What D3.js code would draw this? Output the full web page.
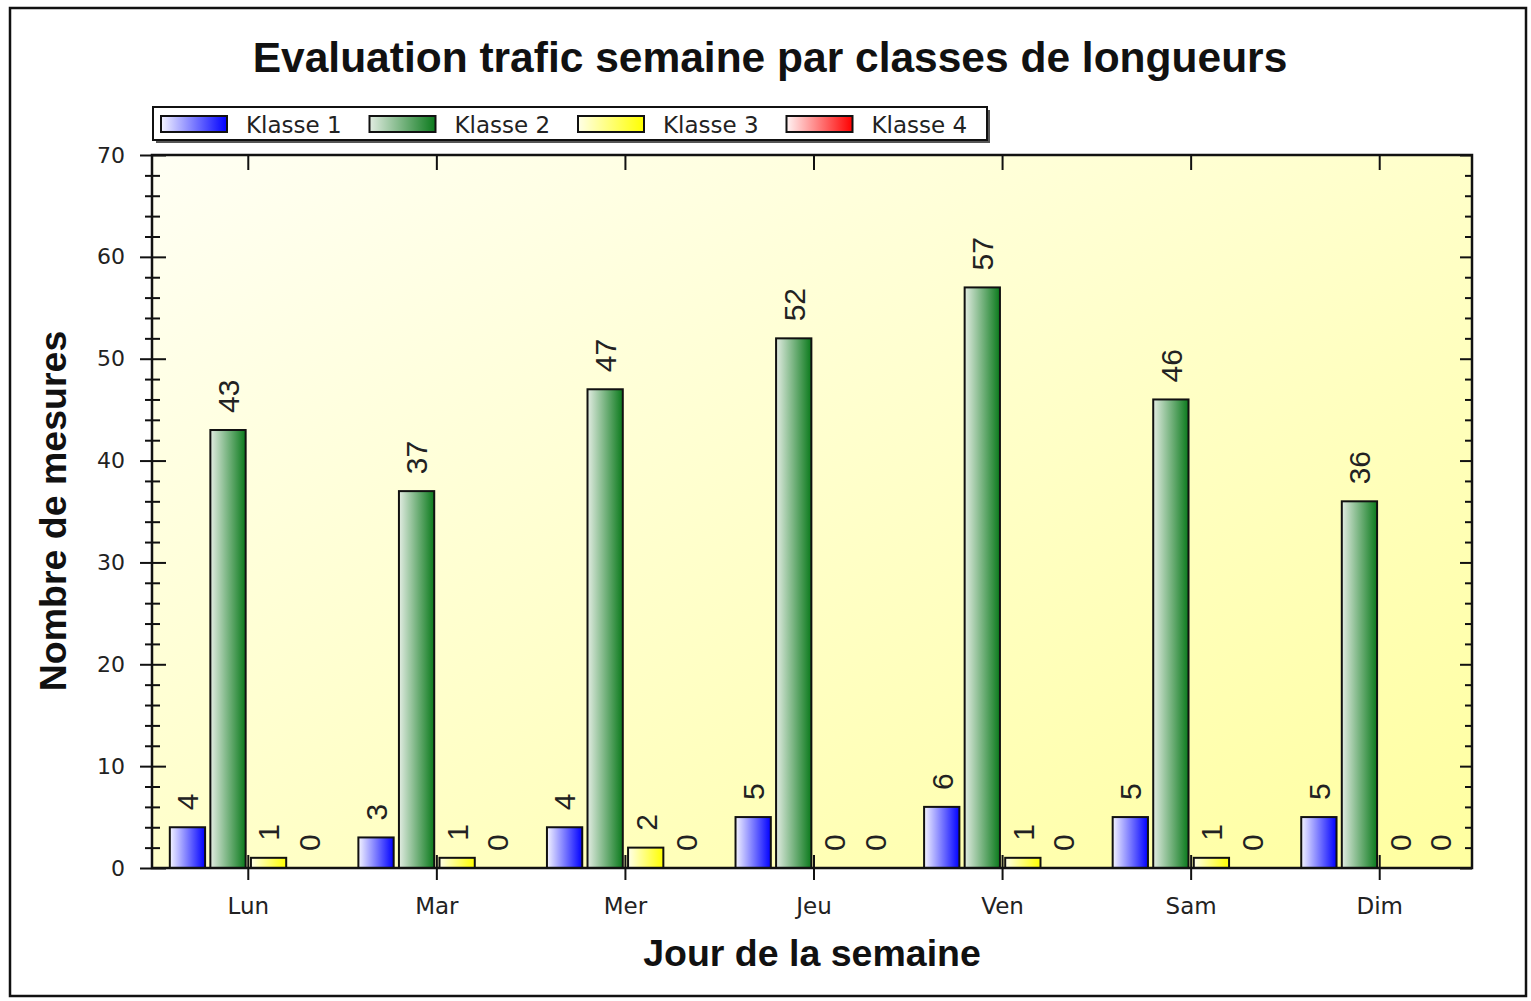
<!DOCTYPE html>
<html>
<head>
<meta charset="utf-8">
<script src="https://cdn.jsdelivr.net/npm/d3@7"></script>
<style>
    html, body { margin: 0; padding: 0; background: #fff; }
    svg { display: block; }
    .lbl { font-family: "DejaVu Sans", sans-serif; fill: #222; }
    .bold { font-family: "Liberation Sans", Arial, sans-serif; font-weight: bold; fill: #111; }
</style>
</head>
<body>
<svg id="chart" width="1531" height="1001"></svg>
<script>
'use strict';

var days = [ 'Lun', 'Mar', 'Mer', 'Jeu', 'Ven', 'Sam', 'Dim' ],
    seriesNames = [ 'Klasse 1', 'Klasse 2', 'Klasse 3', 'Klasse 4' ],
    klasse1 = [ 4, 3, 4, 5, 6, 5, 5 ],
    klasse2 = [ 43, 37, 47, 52, 57, 46, 36 ],
    klasse3 = [ 1, 1, 2, 0, 1, 1, 0 ],
    klasse4 = [ 0, 0, 0, 0, 0, 0, 0 ],
    majorTicks = [ 0, 10, 20, 30, 40, 50, 60, 70 ],
    minorTicks = d3.range( 0, 71, 2 ).filter(function( v ){ return v % 10 !== 0; });

var seriesValues = [ klasse1, klasse2, klasse3, klasse4 ],
    colors = [
        { light: '#f4f4ff', dark: '#0000ff' },
        { light: '#e2ece2', dark: '#0b7a1c' },
        { light: '#ffffe8', dark: '#ffff00' },
        { light: '#fff4f4', dark: '#ff0000' }
    ];

var svg = d3.select( '#chart' ),
    plot = { left: 152, top: 155, right: 1472, bottom: 868 },
    shift = 2,
    defs = svg.append( 'defs' );

// gradients
colors.forEach(function( c, i ){
    var g = defs.append( 'linearGradient' )
        .attr( 'id', 'bar' + i )
        .attr( 'x1', 0 ).attr( 'y1', 0 )
        .attr( 'x2', 1 ).attr( 'y2', 0 );
    g.append( 'stop' ).attr( 'offset', 0 ).attr( 'stop-color', c.light );
    g.append( 'stop' ).attr( 'offset', 1 ).attr( 'stop-color', c.dark );
});

var bg = defs.append( 'linearGradient' )
    .attr( 'id', 'plotBg' )
    .attr( 'x1', 0 ).attr( 'y1', 0 )
    .attr( 'x2', 1 ).attr( 'y2', 1 );
bg.append( 'stop' ).attr( 'offset', 0 ).attr( 'stop-color', '#fffff4' );
bg.append( 'stop' ).attr( 'offset', 1 ).attr( 'stop-color', '#ffffa0' );

// outer frame
svg.append( 'rect' )
    .attr( 'x', 10 ).attr( 'y', 8 )
    .attr( 'width', 1516 ).attr( 'height', 988 )
    .attr( 'fill', '#fff' )
    .attr( 'stroke', '#111' )
    .attr( 'stroke-width', 2.5 );

// title
svg.append( 'text' )
    .attr( 'class', 'bold' )
    .attr( 'x', 770 ).attr( 'y', 72 )
    .attr( 'text-anchor', 'middle' )
    .style( 'font-size', '42.5px' )
    .text( 'Evaluation trafic semaine par classes de longueurs' );

// scales
var x0 = d3.scaleBand()
        .domain( days )
        .range( [ plot.left + shift, plot.right + shift ] )
        .padding( 0 ),
    x1 = d3.scaleBand()
        .domain( seriesNames )
        .range( [ 0, x0.bandwidth() ] )
        .paddingInner( 0.13 )
        .paddingOuter( 0.39 ),
    y = d3.scaleLinear()
        .domain( [ 0, 70 ] )
        .range( [ plot.bottom, plot.top ] );

// plot background
svg.append( 'rect' )
    .attr( 'x', plot.left ).attr( 'y', plot.top )
    .attr( 'width', plot.right - plot.left )
    .attr( 'height', plot.bottom - plot.top )
    .attr( 'fill', 'url(#plotBg)' );

// bars
var groups = svg.append( 'g' ).selectAll( 'g' )
    .data( days )
    .enter().append( 'g' )
    .attr( 'transform', function( d ){ return 'translate(' + x0( d ) + ',0)'; } );

var cells = groups.selectAll( 'g' )
    .data(function( d, di ){
        return seriesNames.map(function( s, si ){
            return { series: s, idx: si, value: seriesValues[si][di] };
        });
    })
    .enter().append( 'g' );

cells.filter(function( d ){ return d.value > 0; })
    .append( 'rect' )
    .attr( 'x', function( d ){ return x1( d.series ); } )
    .attr( 'y', function( d ){ return y( d.value ); } )
    .attr( 'width', x1.bandwidth() )
    .attr( 'height', function( d ){ return y( 0 ) - y( d.value ); } )
    .attr( 'fill', function( d ){ return 'url(#bar' + d.idx + ')'; } )
    .attr( 'stroke', '#111' )
    .attr( 'stroke-width', 2 );

cells.append( 'text' )
    .attr( 'transform', function( d ){
        var cx = x1( d.series ) + x1.bandwidth() / 2,
            cy = y( d.value ) - 17;
        return 'translate(' + cx + ',' + cy + ') rotate(-90)';
    })
    .attr( 'dy', '0.36em' )
    .style( 'font-family', '"Liberation Sans", Arial, sans-serif' )
    .style( 'font-size', '30px' )
    .attr( 'fill', '#222' )
    .text( function( d ){ return d.value; } );

// axes
function styleTicks( g ){
    g.select( '.domain' ).remove();
    g.selectAll( '.tick line' ).attr( 'stroke', '#111' ).attr( 'stroke-width', 2 );
    g.selectAll( '.tick text' )
        .attr( 'class', 'lbl' )
        .attr( 'font-family', null )
        .attr( 'font-size', null );
}

var leftMajor = svg.append( 'g' )
    .attr( 'transform', 'translate(' + plot.left + ',0)' )
    .call( d3.axisLeft( y ).tickValues( majorTicks ).tickSize( 12 ).tickPadding( 15 ) )
    .call( styleTicks );
leftMajor.selectAll( '.tick line' ).attr( 'x1', 14 );
leftMajor.selectAll( '.tick text' ).style( 'font-size', '22px' );

svg.append( 'g' )
    .attr( 'transform', 'translate(' + plot.left + ',0)' )
    .call( d3.axisLeft( y ).tickValues( minorTicks ).tickSize( 7 ).tickFormat( '' ) )
    .call( styleTicks )
    .selectAll( '.tick line' ).attr( 'x1', 8 );

svg.append( 'g' )
    .attr( 'transform', 'translate(' + plot.right + ',0)' )
    .call( d3.axisRight( y ).tickValues( majorTicks ).tickSize( -12 ).tickFormat( '' ) )
    .call( styleTicks );

svg.append( 'g' )
    .attr( 'transform', 'translate(' + plot.right + ',0)' )
    .call( d3.axisRight( y ).tickValues( minorTicks ).tickSize( -7 ).tickFormat( '' ) )
    .call( styleTicks );

var bottomAxis = svg.append( 'g' )
    .attr( 'transform', 'translate(0,' + plot.bottom + ')' )
    .call( d3.axisBottom( x0 ).tickSize( 12 ).tickPadding( 18 ) )
    .call( styleTicks );
bottomAxis.selectAll( '.tick line' ).attr( 'y1', -13 );
bottomAxis.selectAll( '.tick text' ).style( 'font-size', '23px' );

svg.append( 'g' )
    .attr( 'transform', 'translate(0,' + plot.top + ')' )
    .call( d3.axisTop( x0 ).tickSize( -15 ).tickFormat( '' ) )
    .call( styleTicks );

// plot border
svg.append( 'rect' )
    .attr( 'x', plot.left ).attr( 'y', plot.top )
    .attr( 'width', plot.right - plot.left )
    .attr( 'height', plot.bottom - plot.top )
    .attr( 'fill', 'none' )
    .attr( 'stroke', '#111' )
    .attr( 'stroke-width', 2.5 );

// axis titles
svg.append( 'text' )
    .attr( 'class', 'bold' )
    .attr( 'x', 812 ).attr( 'y', 966 )
    .attr( 'text-anchor', 'middle' )
    .style( 'font-size', '37.5px' )
    .text( 'Jour de la semaine' );

svg.append( 'text' )
    .attr( 'class', 'bold' )
    .attr( 'transform', 'translate(66,511) rotate(-90)' )
    .attr( 'text-anchor', 'middle' )
    .style( 'font-size', '37.5px' )
    .text( 'Nombre de mesures' );

// legend
var legend = svg.append( 'g' ).attr( 'transform', 'translate(153,107)' ),
    legendStep = 208.5;

legend.append( 'rect' )
    .attr( 'x', 3 ).attr( 'y', 3 )
    .attr( 'width', 834 ).attr( 'height', 33 )
    .attr( 'fill', '#555' );
legend.append( 'rect' )
    .attr( 'width', 834 ).attr( 'height', 33 )
    .attr( 'fill', '#fff' )
    .attr( 'stroke', '#111' )
    .attr( 'stroke-width', 2 );

var items = legend.selectAll( 'g.item' )
    .data( seriesNames )
    .enter().append( 'g' )
    .attr( 'class', 'item' )
    .attr( 'transform', function( d, i ){ return 'translate(' + ( 8 + i * legendStep ) + ',0)'; } );

items.append( 'rect' )
    .attr( 'y', 9 )
    .attr( 'width', 66 ).attr( 'height', 16 )
    .attr( 'fill', function( d, i ){ return 'url(#bar' + i + ')'; } )
    .attr( 'stroke', '#111' )
    .attr( 'stroke-width', 2 );

items.append( 'text' )
    .attr( 'class', 'lbl' )
    .attr( 'x', 85 ).attr( 'y', 26 )
    .style( 'font-size', '23px' )
    .text( function( d ){ return d; } );
</script>
</body>
</html>
